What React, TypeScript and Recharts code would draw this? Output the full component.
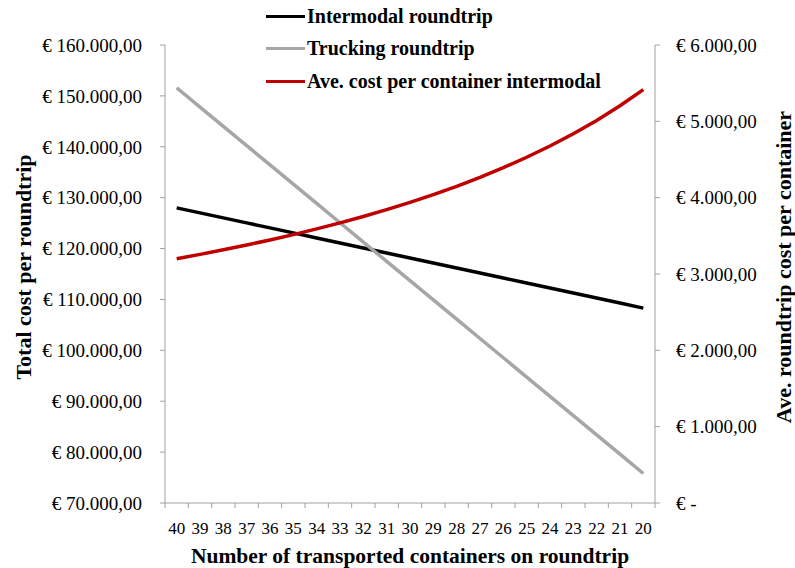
import React from 'react';
import { ComposedChart, Line, XAxis, YAxis, Legend, Label } from 'recharts';

// containers per roundtrip, read right-to-left as in the source sheet
const containers = ['40', '39', '38', '37', '36', '35', '34', '33', '32', '31', '30', '29', '28', '27', '26', '25', '24', '23', '22', '21', '20'];

const intermodalRoundtrip = [128000, 127015, 126030, 125045, 124060, 123075, 122090, 121105, 120120, 119135, 118150, 117165, 116180, 115195, 114210, 113225, 112240, 111255, 110270, 109285, 108300];

const truckingRoundtrip = [151600, 147810, 144020, 140230, 136440, 132650, 128860, 125070, 121280, 117490, 113700, 109910, 106120, 102330, 98540, 94750, 90960, 87170, 83380, 79590, 75800];

const aveCostPerContainer = [3200, 3257, 3317, 3380, 3446, 3516, 3591, 3670, 3754, 3843, 3938, 4040, 4149, 4267, 4393, 4529, 4677, 4837, 5012, 5204, 5415];

const leftTicks = [70000, 80000, 90000, 100000, 110000, 120000, 130000, 140000, 150000, 160000];
const rightTicks = [0, 1000, 2000, 3000, 4000, 5000, 6000];

const FONT = '"Liberation Serif", serif';
const AXIS_COLOR = '#a0a0a0';
const W = 795;
const H = 568;
const TOP = 45;
const LEFT_W = 165;
const RIGHT_W = 140;
const X_H = 65;
const PLOT_W = W - LEFT_W - RIGHT_W;
const AXIS_Y = H - X_H;
const HALF_STEP = PLOT_W / containers.length / 2;
const TITLE_Y = 267;

const data = containers.map((n, i) => ({
  n,
  intermodal: intermodalRoundtrip[i],
  trucking: truckingRoundtrip[i],
  ave: aveCostPerContainer[i],
}));

const euro = (v: number) => {
  if (v === 0) return '€ -';
  const whole = Math.floor(v).toString().replace(/\B(?=(\d{3})+(?!\d))/g, '.');
  return `€ ${whole},00`;
};

const series = [
  { key: 'intermodal', name: 'Intermodal roundtrip', color: '#000000' },
  { key: 'trucking', name: 'Trucking roundtrip', color: '#a6a6a6' },
  { key: 'ave', name: 'Ave. cost per container intermodal', color: '#c00000' },
];

const XTick = (props: any) => {
  const { x, payload, index } = props;
  return (
    <g>
      <line x1={x - HALF_STEP} x2={x - HALF_STEP} y1={AXIS_Y} y2={AXIS_Y + 5} stroke={AXIS_COLOR} />
      {index === containers.length - 1 && (
        <line x1={x + HALF_STEP} x2={x + HALF_STEP} y1={AXIS_Y} y2={AXIS_Y + 5} stroke={AXIS_COLOR} />
      )}
      <text x={x} y={534} textAnchor="middle" fontFamily={FONT} fontSize={17} fill="#000">
        {payload.value}
      </text>
    </g>
  );
};

const LegendBox = () => (
  <div style={{ fontFamily: FONT, fontWeight: 'bold', fontSize: 20, color: '#000' }}>
    {series.map((s) => (
      <div key={s.key} style={{ display: 'flex', alignItems: 'center', height: 32.6 }}>
        <span style={{ display: 'inline-block', width: 39, height: 3, background: s.color, marginRight: 2 }} />
        <span>{s.name}</span>
      </div>
    ))}
  </div>
);

const VTitle = ({ x, text }: { x: number; text: string }) => (
  <text
    x={0}
    y={0}
    transform={`translate(${x}, ${TITLE_Y}) rotate(-90)`}
    textAnchor="middle"
    fontFamily={FONT}
    fontWeight="bold"
    fontSize={22}
    fill="#000"
  >
    {text}
  </text>
);

export default function App() {
  return (
    <div style={{ position: 'absolute', left: 0, top: 0, width: W, height: H, background: '#fff' }}>
      <ComposedChart width={W} height={H} data={data} margin={{ top: TOP, right: 0, bottom: 0, left: 0 }}>
        <XAxis
          dataKey="n"
          scale="band"
          height={X_H}
          stroke={AXIS_COLOR}
          tickLine={false}
          interval={0}
          tick={<XTick />}
        >
          <Label
            content={() => (
              <text x={LEFT_W + PLOT_W / 2} y={563} textAnchor="middle" fontFamily={FONT} fontWeight="bold" fontSize={21.5} fill="#000">
                Number of transported containers on roundtrip
              </text>
            )}
          />
        </XAxis>
        <YAxis
          yAxisId="left"
          width={LEFT_W}
          domain={[70000, 160000]}
          ticks={leftTicks}
          tickFormatter={euro}
          stroke={AXIS_COLOR}
          tickSize={5}
          tickMargin={18}
          tick={{ fill: '#000', fontFamily: FONT, fontSize: 19 }}
          interval={0}
        >
          <Label content={() => <VTitle x={31} text="Total cost per roundtrip" />} />
        </YAxis>
        <YAxis
          yAxisId="right"
          orientation="right"
          width={RIGHT_W}
          domain={[0, 6000]}
          ticks={rightTicks}
          tickFormatter={euro}
          stroke={AXIS_COLOR}
          tickSize={5}
          tickMargin={16}
          tick={{ fill: '#000', fontFamily: FONT, fontSize: 19 }}
          interval={0}
        >
          <Label content={() => <VTitle x={791} text="Ave. roundtrip cost per container" />} />
        </YAxis>
        <Legend
          layout="vertical"
          align="center"
          verticalAlign="middle"
          content={<LegendBox />}
          wrapperStyle={{ top: 0, left: 266, width: 400 }}
        />
        <Line yAxisId="left" dataKey="intermodal" name="Intermodal roundtrip" stroke="#000000" strokeWidth={3.5} dot={false} isAnimationActive={false} />
        <Line yAxisId="left" dataKey="trucking" name="Trucking roundtrip" stroke="#a6a6a6" strokeWidth={3.5} dot={false} isAnimationActive={false} />
        <Line yAxisId="right" dataKey="ave" name="Ave. cost per container intermodal" stroke="#c00000" strokeWidth={3.5} dot={false} isAnimationActive={false} />
      </ComposedChart>
    </div>
  );
}
